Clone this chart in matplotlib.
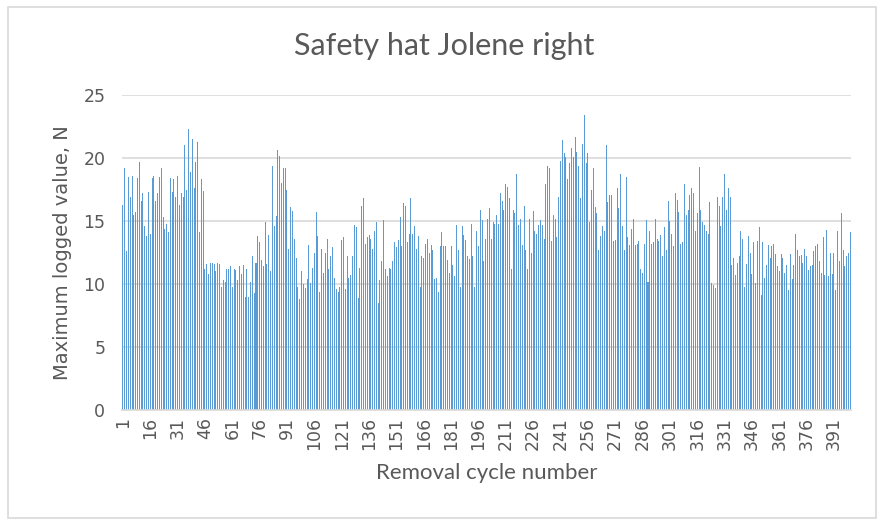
import matplotlib
matplotlib.use("Agg")
import matplotlib.pyplot as plt
from matplotlib.patches import Rectangle

# Peak force per removal cycle
seg1 = [16.3, 19.2, 12.6, 18.5, 16.9, 18.6, 15.5, 15.7, 18.4, 19.7,
        16.6, 17.2, 14.6, 13.8, 17.3, 14.0, 18.4, 18.6, 16.6, 17.2,
        18.5, 19.2, 15.3, 14.4, 14.8, 14.1, 18.4, 17.3, 18.3, 16.9,
        18.6, 16.3, 17.2, 16.9, 21.0, 17.5, 22.3, 18.9, 21.5, 17.6,
        19.7, 21.3, 14.1, 18.3, 17.4, 11.2, 11.6, 10.8, 11.7, 11.7]
seg2 = [11.6, 11.0, 11.7, 11.6, 9.8, 10.3, 10.2, 11.2, 11.2, 11.4,
        9.8, 11.2, 11.1, 10.3, 11.4, 10.8, 11.5, 9.0, 11.2, 9.0,
        10.2, 12.2, 9.3, 11.7, 13.8, 13.3, 11.9, 11.4, 14.9, 11.6,
        13.9, 11.0, 19.4, 14.6, 15.4, 20.6, 20.2, 18.0, 19.2, 19.2,
        17.5, 12.8, 16.1, 15.8, 13.6, 12.1, 9.8, 8.8, 11.0]
seg3 = [10.0, 9.7, 10.4, 13.1, 10.1, 11.3, 12.5, 15.7, 13.8, 9.4,
        12.8, 10.9, 12.5, 13.6, 11.2, 12.2, 12.9, 10.5, 9.6, 9.4,
        9.8, 13.5, 13.7, 9.6, 12.2, 10.5, 10.7, 12.2, 14.7, 14.5,
        8.9, 11.3, 16.2, 16.8, 13.2, 13.7, 13.9, 13.6, 12.8, 14.2,
        14.9, 8.5, 10.3, 11.8, 15.1, 11.2, 10.6, 11.3, 11.2, 11.8]
seg4 = [13.3, 12.9, 13.5, 15.3, 13.0, 16.4, 16.2, 13.3, 14.0, 16.8,
        14.0, 14.6, 12.8, 13.8, 9.8, 12.2, 12.1, 13.2, 13.6, 12.5,
        13.1, 12.7, 10.4, 10.5, 9.4, 13.0, 14.1, 13.0, 13.0, 11.9,
        10.9, 13.0, 11.5, 10.6, 14.7, 12.7, 9.8, 14.6, 13.9, 13.5,
        12.2, 12.0, 14.8, 12.2, 9.8, 14.2, 13.0, 15.9, 15.1, 11.8]
seg5 = [13.6, 15.2, 16.0, 13.6, 14.9, 14.8, 15.5, 14.8, 17.2, 16.6,
        15.9, 17.9, 17.7, 16.8, 11.2, 15.9, 15.6, 18.7, 14.7, 15.2,
        13.1, 16.2, 12.7, 11.2, 15.2, 12.5, 15.8, 14.2, 14.0, 14.7,
        15.1, 14.7, 13.6, 17.9, 19.4, 19.2, 13.4, 15.5, 15.2, 13.7,
        16.9, 19.8, 21.4, 20.4, 20.1, 18.3, 19.6, 20.8]
seg6 = [20.1, 21.7, 20.5, 19.4, 16.8, 21.1, 23.4, 19.6, 20.4, 14.9,
        17.5, 19.2, 16.1, 15.6, 12.7, 13.8, 14.6, 14.2, 21.0, 16.5,
        17.1, 17.1, 13.4, 13.5, 17.6, 16.0, 18.7, 14.6, 12.7, 18.5,
        13.7, 13.1, 14.4, 15.2, 13.1, 13.2, 13.4, 11.2, 10.9, 13.2,
        15.1, 10.2, 14.2, 13.2, 13.3, 15.2, 13.6, 13.4, 13.9, 12.2]
seg7 = [14.5, 12.7, 16.6, 15.0, 14.0, 13.0, 17.2, 16.7, 15.7, 13.2,
        13.3, 17.9, 15.5, 15.9, 17.1, 17.6, 17.2, 14.2, 15.6, 19.3,
        15.9, 14.9, 14.7, 14.2, 14.0, 16.5, 10.1, 9.9, 9.7, 16.9,
        16.2, 14.6, 16.9, 18.7, 15.9, 17.6, 16.9, 11.5, 12.1, 10.7,
        11.7, 12.2, 14.2, 13.6, 9.8, 11.6, 13.8, 12.5, 10.8]
seg8 = [13.3, 10.1, 13.4, 14.5, 9.1, 13.3, 10.5, 11.5, 13.1, 12.1,
        13.0, 13.2, 12.4, 11.4, 11.0, 12.4, 12.1, 10.9, 11.5, 9.5,
        12.4, 10.4, 11.5, 14.0, 12.7, 12.2, 12.3, 11.7, 12.8, 12.2,
        11.1, 11.4, 11.5, 12.6, 13.0, 13.2, 11.8, 10.9, 13.7, 10.7,
        14.3, 10.6, 12.5, 10.8, 12.5, 9.5, 14.2, 11.8, 15.6, 12.7,
        11.4, 12.2, 12.5, 14.1]

values = seg1 + seg2 + seg3 + seg4 + seg5 + seg6 + seg7 + seg8
cycles = list(range(1, len(values) + 1))
tick_cycles = list(range(1, len(values) + 1, 15))

text_color = '#595959'
grid_color = '#D9D9D9'

fig = plt.figure(figsize=(8.84, 5.25), dpi=100)
ax = fig.add_axes([0.138, 0.219, 0.825, 0.600])

ax.bar(cycles, values, width=0.55, color='#5B9BD5', linewidth=0, zorder=2)

ax.set_xlim(0.5, len(values) + 0.5)
ax.set_ylim(0, 25)
ax.set_yticks([0, 5, 10, 15, 20, 25])
ax.yaxis.grid(True, color=grid_color, linewidth=1.2, zorder=0)
ax.set_xticks(tick_cycles)
ax.set_xticklabels([str(c) for c in tick_cycles], rotation=90)
ax.tick_params(axis='both', length=0, colors=text_color, labelsize=12.5)
ax.tick_params(axis='x', pad=5)
ax.tick_params(axis='y', pad=12)

for side in ['top', 'right', 'left']:
    ax.spines[side].set_visible(False)
ax.spines['bottom'].set_color(grid_color)
ax.spines['bottom'].set_linewidth(1.2)

fig.text(0.503, 0.912, 'Safety hat Jolene right', fontsize=22, color=text_color,
         family='Lato', ha='center', va='center')
ax.set_xlabel('Removal cycle number', fontsize=16, color=text_color,
              family='Lato', labelpad=9)
ax.set_ylabel('Maximum logged value, N', fontsize=14, color=text_color,
              labelpad=8)

# chart area border
fig.patches.append(Rectangle((0.009, 0.013), 0.982, 0.974, transform=fig.transFigure,
                             fill=False, edgecolor=grid_color, linewidth=1.2))

plt.savefig('out.png', dpi=100)
plt.close()
